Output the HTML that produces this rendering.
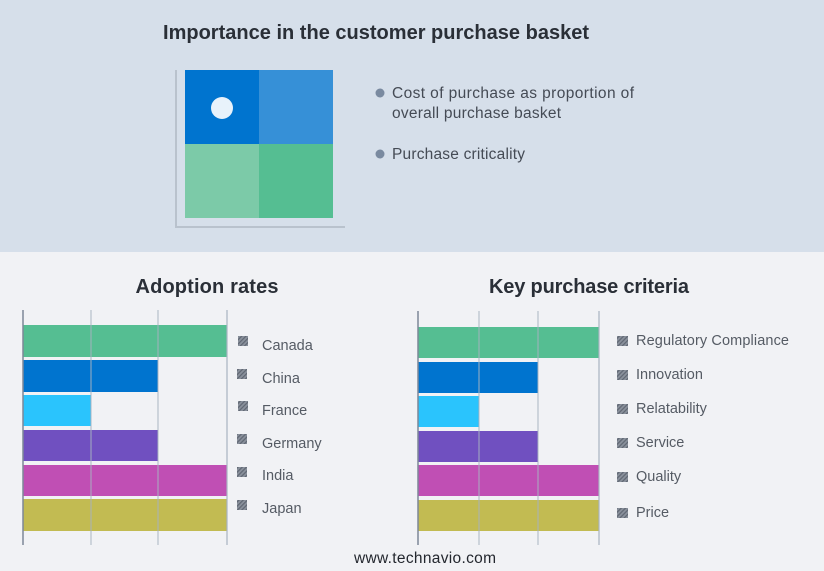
<!DOCTYPE html>
<html><head><meta charset="utf-8"><style>
html,body{margin:0;padding:0;width:824px;height:571px;overflow:hidden;background:#f1f2f5;font-family:"Liberation Sans",sans-serif;}
</style></head><body>
<svg width="824" height="571" xmlns="http://www.w3.org/2000/svg" font-family="Liberation Sans, sans-serif">
<defs>
<pattern id="h" width="3" height="3" patternUnits="userSpaceOnUse" patternTransform="rotate(45)">
<rect width="3" height="3" fill="#8a919c"/><rect width="1.2" height="3" fill="#5f6672"/>
</pattern>
</defs>
<rect x="0" y="0" width="824" height="252" fill="#d6dfea"/>
<rect x="0" y="252" width="824" height="319" fill="#f1f2f5"/>
<text x="376" y="39" text-anchor="middle" font-size="20" font-weight="bold" fill="#2a2f37" textLength="426">Importance in the customer purchase basket</text>
<line x1="176" y1="70" x2="176" y2="227" stroke="#b9c2cd" stroke-width="2"/>
<line x1="175" y1="227" x2="345" y2="227" stroke="#b9c2cd" stroke-width="2"/>
<rect x="185" y="70" width="74" height="74" fill="#0074cf"/>
<rect x="259" y="70" width="74" height="74" fill="#3690d7"/>
<rect x="185" y="144" width="74" height="74" fill="#7ccaa8"/>
<rect x="259" y="144" width="74" height="74" fill="#55be92"/>
<circle cx="222" cy="108" r="11" fill="#e8f2fb"/>
<circle cx="380" cy="93" r="4.5" fill="#7a8aa0"/>
<text x="392" y="98" font-size="15.5" fill="#454b55" textLength="242">Cost of purchase as proportion of</text>
<text x="392" y="118" font-size="15.5" fill="#454b55" textLength="169">overall purchase basket</text>
<circle cx="380" cy="154" r="4.5" fill="#7a8aa0"/>
<text x="392" y="159" font-size="15.5" fill="#454b55" textLength="133">Purchase criticality</text>

<text x="207" y="293" text-anchor="middle" font-size="20" font-weight="bold" fill="#2a2f37" textLength="143">Adoption rates</text>
<text x="589" y="293" text-anchor="middle" font-size="20" font-weight="bold" fill="#2a2f37" textLength="200">Key purchase criteria</text>

<g>
<rect x="23" y="325" width="204" height="32" fill="#55be92"/>
<rect x="23" y="360" width="135" height="32" fill="#0074cf"/>
<rect x="23" y="395" width="68" height="31" fill="#2ac4fd"/>
<rect x="23" y="430" width="135" height="31" fill="#7050c0"/>
<rect x="23" y="465" width="204" height="31" fill="#c04fb4"/>
<rect x="23" y="499" width="204" height="32" fill="#c2bb52"/>
<line x1="91" y1="310" x2="91" y2="545" stroke="#a8b3c0" stroke-width="1.2" stroke-opacity="0.8"/>
<line x1="158" y1="310" x2="158" y2="545" stroke="#a8b3c0" stroke-width="1.2" stroke-opacity="0.8"/>
<line x1="227" y1="310" x2="227" y2="545" stroke="#a8b3c0" stroke-width="1.2"/>
<line x1="23" y1="310" x2="23" y2="545" stroke="#7d8898" stroke-width="1.5"/>
<g font-size="14.5" fill="#555b64">
<rect x="238" y="336" width="10" height="10" fill="url(#h)"/><text x="262" y="350">Canada</text>
<rect x="237" y="369" width="10" height="10" fill="url(#h)"/><text x="262" y="383">China</text>
<rect x="238" y="401" width="10" height="10" fill="url(#h)"/><text x="262" y="415">France</text>
<rect x="237" y="434" width="10" height="10" fill="url(#h)"/><text x="262" y="448">Germany</text>
<rect x="237" y="467" width="10" height="10" fill="url(#h)"/><text x="262" y="480">India</text>
<rect x="237" y="500" width="10" height="10" fill="url(#h)"/><text x="262" y="513">Japan</text>
</g>
</g>

<g>
<rect x="418" y="327" width="181" height="31" fill="#55be92"/>
<rect x="418" y="362" width="120" height="31" fill="#0074cf"/>
<rect x="418" y="396" width="61" height="31" fill="#2ac4fd"/>
<rect x="418" y="431" width="120" height="31" fill="#7050c0"/>
<rect x="418" y="465" width="181" height="31" fill="#c04fb4"/>
<rect x="418" y="500" width="181" height="31" fill="#c2bb52"/>
<line x1="479" y1="311" x2="479" y2="545" stroke="#a8b3c0" stroke-width="1.2" stroke-opacity="0.8"/>
<line x1="538" y1="311" x2="538" y2="545" stroke="#a8b3c0" stroke-width="1.2" stroke-opacity="0.8"/>
<line x1="599" y1="311" x2="599" y2="545" stroke="#a8b3c0" stroke-width="1.2"/>
<line x1="418" y1="311" x2="418" y2="545" stroke="#7d8898" stroke-width="1.5"/>
<g font-size="14.5" fill="#555b64">
<rect x="617" y="336" width="11" height="10" fill="url(#h)"/><text x="636" y="345" textLength="153">Regulatory Compliance</text>
<rect x="617" y="370" width="11" height="10" fill="url(#h)"/><text x="636" y="379">Innovation</text>
<rect x="617" y="404" width="11" height="10" fill="url(#h)"/><text x="636" y="413">Relatability</text>
<rect x="617" y="438" width="11" height="10" fill="url(#h)"/><text x="636" y="447">Service</text>
<rect x="617" y="472" width="11" height="10" fill="url(#h)"/><text x="636" y="481">Quality</text>
<rect x="617" y="508" width="11" height="10" fill="url(#h)"/><text x="636" y="517">Price</text>
</g>
</g>
<text x="425" y="563" text-anchor="middle" font-size="15.5" fill="#23272e" textLength="142">www.technavio.com</text>
</svg>
</body></html>
